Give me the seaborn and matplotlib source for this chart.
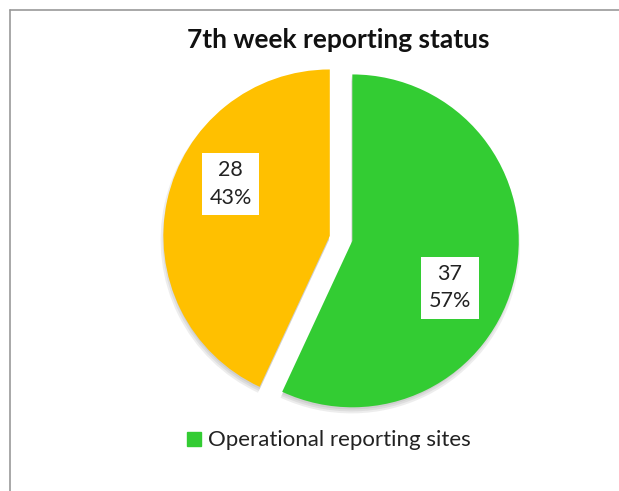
import matplotlib
matplotlib.use("Agg")
import matplotlib.pyplot as plt
import matplotlib.patches as mpatches
from matplotlib.lines import Line2D
import seaborn as sns

# data
categories = ["Operational reporting sites", "Non-reporting sites"]
counts = [37, 28]
colors = ["#33CC33", "#FFC000"]

sns.set_theme(style="white")
plt.rcParams["font.family"] = ["Lato", "DejaVu Sans"]

fig = plt.figure(figsize=(6.19, 4.91), dpi=100)
ax = fig.add_axes([0.218, 0.095, 0.666, 0.839])

total = sum(counts)
wedges, texts = ax.pie(
    counts, colors=colors, startangle=90, counterclock=False,
    explode=[0.07, 0.07], radius=1.01,
    wedgeprops=dict(linewidth=0, zorder=3),
)

# soft grey shadow under each slice
for w in wedges:
    cx, cy = w.center
    for dr in [0.0, 0.012, 0.024]:
        sh = mpatches.Wedge((cx - 0.005, cy - 0.025), w.r + dr - 0.012,
                            w.theta1, w.theta2, color="#555555",
                            alpha=0.10, lw=0, zorder=1)
        ax.add_patch(sh)

ax.set_xlim(-1.25, 1.25)
ax.set_ylim(-1.25, 1.25)
ax.set_aspect("equal")
ax.axis("off")

# data labels in white boxes (Excel-style positions)
label_pos = [(0.66, -0.30), (-0.67, 0.33)]
for (x, y), n in zip(label_pos, counts):
    ax.text(x, y, f"{n}\n{round(100 * n / total)}%", ha="center", va="center",
            fontsize=15.5, color="#222222", linespacing=1.45, zorder=5,
            bbox=dict(boxstyle="square,pad=0.35", fc="white", ec="none"))

fig.text(0.546, 0.918, "7th week reporting status", ha="center", va="center",
         fontsize=19, fontweight="bold", color="#111111")

leg = fig.legend(
    handles=[mpatches.Patch(color=colors[0], label=categories[0])],
    loc="center", bbox_to_anchor=(0.532, 0.103), frameon=False,
    fontsize=16, handlelength=0.6, handleheight=0.6, handletextpad=0.35,
)
for t in leg.get_texts():
    t.set_color("#222222")

# partial border (top and left)
x0, y0 = 10 / 619, 1 - 10 / 491
fig.add_artist(Line2D([x0, 1], [y0, y0], color="#999999", lw=1.2,
                      transform=fig.transFigure))
fig.add_artist(Line2D([x0, x0], [0, y0], color="#999999", lw=1.2,
                      transform=fig.transFigure))

fig.savefig("out.png", dpi=100, facecolor="white")
